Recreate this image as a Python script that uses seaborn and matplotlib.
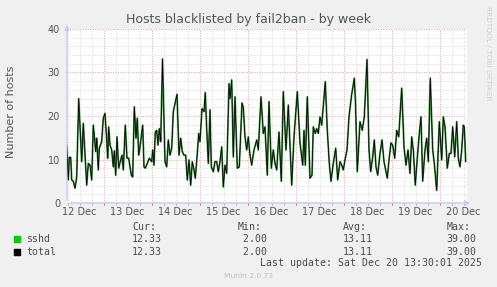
import matplotlib
matplotlib.use("Agg")
import matplotlib.pyplot as plt
import matplotlib.patches as mpatches
import pandas as pd
import seaborn as sns

# ---- data (hours since 12 Dec 00:00) ----
hours = [5.6, 6.4, 6.9, 7.6, 8.1, 8.9, 9.75, 10.6, 11.6, 13.1, 13.9, 15.6, 16.4, 17.25, 18.1,
         18.9, 20.1, 20.6, 21.4, 21.9, 23.1, 23.9, 24.75, 25.6, 26.1, 26.6, 27.25, 28.1, 28.9,
         29.4, 30.1, 30.75, 31.6, 32.6, 33.25, 33.9, 34.9, 35.75, 36.6, 37.25, 37.9, 38.6,
         39.4, 40.25, 40.9, 41.6, 42.25, 43.6, 44.25, 44.9, 45.9, 46.9, 48.1, 48.6, 49.25,
         49.9, 50.6, 51.25, 51.9, 52.6, 53.5, 54.75, 55.6, 56.4, 57.25, 58.1, 58.9, 60.75,
         61.75, 62.6, 63.4, 64.25, 65.1, 65.9, 66.75, 67.6, 68.4, 69.25, 69.9, 70.9, 71.6,
         72.25, 73.25, 74.25, 74.9, 75.6, 76.4, 77.25, 77.9, 78.9, 79.75, 80.6, 81.4, 82.25,
         83.1, 83.9, 84.75, 85.6, 86.75, 87.25, 88.1, 88.9, 89.75, 90.9, 91.9, 93.25, 93.9,
         94.75, 95.6, 96.4, 97.25, 98.1, 99.25, 100.6, 101.4, 102.75, 103.9, 104.75, 105.9,
         106.75, 107.9, 108.9, 109.75, 110.6, 111.75, 112.9, 113.9, 115.25, 116.4, 118.1,
         119.25, 120.9, 122.25, 123.6, 124.25, 124.9, 125.9, 127.25, 128.25, 128.9, 129.9,
         130.6, 131.4, 132.25, 133.1, 134.9, 135.9, 136.9, 137.75, 138.9, 140.1, 141.1,
         142.25, 143.1, 143.9, 144.75, 145.75, 146.75, 148.1, 149.4, 150.0, 150.9, 152.25,
         153.4, 154.4, 155.75, 156.75, 157.6, 158.6, 159.4, 160.25, 161.1, 162.25, 163.25,
         164.25, 164.9, 165.9, 166.75, 167.75, 168.6, 169.6, 170.6, 171.6, 173.1, 174.25,
         175.25, 176.25, 177.25, 178.1, 178.9, 179.9, 180.9, 181.9, 182.75, 183.6, 184.75,
         185.6, 186.4, 187.4, 188.6, 189.4, 190.6, 191.9, 193.1, 193.9, 194.75, 195.9,
         196.9, 197.75, 198.6, 199.6, 200.6, 201.4, 202.25, 203.1, 203.9, 204.4, 205.1]

sshd = [13.3, 5.3, 10.5, 10.5, 5.3, 5.0, 3.4, 6.0, 24.0, 9.5, 18.3, 4.1, 9.1, 8.7, 5.3,
        17.9, 11.8, 14.9, 7.6, 12.6, 14.1, 19.5, 20.6, 14.5, 10.3, 17.5, 13.3, 12.2, 8.3,
        12.0, 6.4, 15.2, 8.0, 9.9, 11.0, 7.6, 17.9, 10.3, 10.3, 8.3, 6.4, 6.0,
        22.1, 14.9, 19.5, 11.0, 12.9, 17.9, 8.3, 8.0, 9.1, 10.3, 9.5, 12.2, 8.7,
        16.3, 16.7, 13.3, 17.1, 14.1, 33.1, 9.5, 8.3, 14.5, 11.0, 12.6, 21.0, 25.0,
        11.0, 14.9, 11.8, 11.0, 11.0, 5.3, 9.9, 4.1, 9.5, 7.6, 5.7, 11.4, 16.0,
        14.1, 21.7, 21.0, 25.4, 17.1, 9.1, 21.4, 8.3, 7.2, 9.5, 9.5, 7.2, 9.5,
        12.9, 3.7, 8.7, 6.8, 27.4, 24.0, 28.3, 10.6, 24.4, 8.0, 8.3, 23.0, 22.0,
        15.2, 12.2, 15.2, 11.0, 8.7, 12.2, 14.5, 12.2, 24.4, 16.0, 17.5, 6.4,
        23.3, 8.0, 12.2, 9.1, 7.6, 16.3, 5.0, 25.6, 12.2, 22.5, 4.1,
        15.2, 25.6, 13.8, 8.7, 16.7, 8.7, 24.4, 5.7, 6.4, 17.5, 16.0,
        17.1, 16.0, 19.8, 17.9, 27.9, 16.7, 9.1, 5.0, 9.1, 12.6, 5.3,
        9.5, 8.7, 7.6, 9.9, 12.2, 19.8, 25.0, 28.7, 23.0, 7.2, 18.7,
        16.7, 19.8, 33.0, 12.2, 7.2, 10.6, 14.5, 8.3, 6.4, 11.4, 14.5,
        9.5, 8.0, 5.7, 9.9, 13.8, 13.3, 10.3, 16.7, 15.2, 26.4, 12.9,
        8.7, 12.2, 6.8, 15.2, 12.2, 4.1, 10.3, 16.0, 19.8, 5.0, 12.2,
        14.9, 9.5, 28.7, 12.2, 9.1, 2.9, 18.7, 9.9, 19.8, 17.5, 8.0,
        11.4, 11.4, 17.5, 10.6, 18.7, 10.3, 8.3, 12.2, 17.9, 17.5, 9.5]

total = list(sshd)  # legend stats show total identical to sshd

day_ticks = [12, 36, 60, 84, 108, 132, 156, 180, 204]
day_labels = ["12 Dec", "13 Dec", "14 Dec", "15 Dec", "16 Dec",
              "17 Dec", "18 Dec", "19 Dec", "20 Dec"]
y_ticks = [0, 10, 20, 30, 40]

stat_headers = ["Cur:", "Min:", "Avg:", "Max:"]
stats_sshd = ["12.33", " 2.00", "13.11", "39.00"]
stats_total = ["12.33", " 2.00", "13.11", "39.00"]

# ---- figure ----
sns.set_style("white")
plt.rcParams["font.family"] = ["DejaVu Sans"]

W, H = 497, 287
fig = plt.figure(figsize=(W / 100, H / 100), dpi=100, facecolor="#f0f0f0")
ax = fig.add_axes([67 / W, 84 / H, 400 / W, 174 / H])
ax.set_facecolor("white")

red = "#e3a0a0"
gray = "#d6d6d6"
dots = (0, (1, 1.6))
for v in range(2, 41, 2):
    ax.axhline(v, color=red if v % 10 == 0 else gray, lw=0.7, ls=dots, zorder=0)
for h in range(6, 206, 6):
    ax.axvline(h, color=red if h % 24 == 0 else gray, lw=0.7, ls=dots, zorder=0)

df = pd.DataFrame({"hours": hours, "sshd": sshd, "total": total})
sns.lineplot(data=df, x="hours", y="sshd", ax=ax, color="#3f8f3f", lw=1.3,
             estimator=None, sort=False, zorder=3)
sns.lineplot(data=df, x="hours", y="total", ax=ax, color="black", lw=0.55,
             estimator=None, sort=False, zorder=4)

ax.set_xlim(5.75, 205.75)
ax.set_ylim(0, 40)
for s in ax.spines.values():
    s.set_visible(False)
ax.set_xlabel("")
ax.set_ylabel("")
ax.set_xticks(day_ticks)
ax.set_xticklabels(day_labels)
ax.set_yticks(y_ticks)
ax.tick_params(axis="x", length=0, pad=3, labelsize=7, labelcolor="#555555")
ax.tick_params(axis="y", length=0, pad=5, labelsize=7, labelcolor="#555555")

# small tick marks under the x axis
xt = ax.get_xaxis_transform()
for h in range(6, 206, 6):
    ax.plot([h, h], [-0.014, 0], transform=xt, clip_on=False,
            color="#e08080" if h % 24 == 0 else "#c0c0c0", lw=0.8)

# axis arrows
axis_col = "#c8c8f0"
ax.annotate("", xy=(0, 1.04), xytext=(0, 0), xycoords="axes fraction",
            arrowprops=dict(arrowstyle="-|>", color=axis_col, lw=1, mutation_scale=7),
            annotation_clip=False)
ax.annotate("", xy=(1.015, 0), xytext=(0, 0), xycoords="axes fraction",
            arrowprops=dict(arrowstyle="-|>", color=axis_col, lw=1, mutation_scale=7),
            annotation_clip=False)

def fx(px):
    return px / W

def fy(py):
    return 1 - py / H

fig.text(fx(248.5), fy(19), "Hosts blacklisted by fail2ban - by week", ha="center",
         va="center", fontsize=9, color="#555555")
fig.text(fx(11), fy(112), "Number of hosts", rotation=90, ha="center", va="center",
         fontsize=8, color="#555555")
fig.text(fx(488), fy(53.5), "RRDTOOL / TOBI OETIKER", rotation=270, ha="center",
         va="center", fontsize=5.3, color="#d0d0d0")

mono = dict(family="DejaVu Sans Mono", fontsize=7.1, color="#4a4a4a", va="center")
cols = [132, 237.3, 342.7, 446.7]
for x, t in zip(cols, stat_headers):
    fig.text(fx(x), fy(227), t, ha="left", **mono)
for x, t in zip(cols, stats_sshd):
    fig.text(fx(x), fy(239.3), t, ha="left", **mono)
for x, t in zip(cols, stats_total):
    fig.text(fx(x), fy(251.7), t, ha="left", **mono)
fig.text(fx(26), fy(239.3), "sshd", ha="left", **mono)
fig.text(fx(26), fy(251.7), "total", ha="left", **mono)
fig.text(fx(482.3), fy(263.3), "Last update: Sat Dec 20 13:30:01 2025", ha="right", **mono)

fig.patches.append(mpatches.Rectangle((fx(14), fy(242.3)), 6 / W, 6 / H,
                                      transform=fig.transFigure, color="#00cc00"))
fig.patches.append(mpatches.Rectangle((fx(14), fy(254.7)), 6 / W, 6 / H,
                                      transform=fig.transFigure, color="black"))

fig.text(fx(248), fy(276), "Munin 2.0.73", ha="center", va="center",
         fontsize=5.4, color="#c0c0c0")

fig.savefig("out.png", dpi=100, facecolor=fig.get_facecolor())
